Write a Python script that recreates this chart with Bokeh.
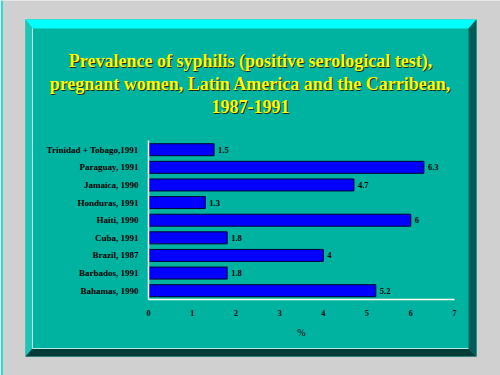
from bokeh.plotting import figure
from bokeh.models import Range1d, LinearAxis, FixedTicker, ColumnDataSource
from bokeh.core.properties import value
from bokeh.embed import file_html
from bokeh.resources import INLINE

# ---- data ----
title_lines = [
    "Prevalence of syphilis (positive serological test),",
    "pregnant women, Latin America and the Carribean,",
    "1987-1991",
]
countries = ["Trinidad + Tobago,1991", "Paraguay, 1991", "Jamaica, 1990", "Honduras, 1991",
             "Haiti, 1990", "Cuba, 1991", "Brazil, 1987", "Barbados, 1991", "Bahamas, 1990"]
prevalence = [1.5, 6.3, 4.7, 1.3, 6, 1.8, 4, 1.8, 5.2]
value_labels = ["1.5", "6.3", "4.7", "1.3", "6", "1.8", "4", "1.8", "5.2"]
x_ticks = [0, 1, 2, 3, 4, 5, 6, 7]
x_axis_label = "%"

# ---- layout / styles ----
W, H = 500, 375
BG = "#d0d0d0"
FACE = "#00b2a0"
SERIF = "Liberation Serif"

# plot area in canvas pixels
X0_PX, X1_PX = 148, 454          # value 0 and value 7
Y_TOP_PX, Y_BOT_PX = 140.4, 299  # top / bottom of category band
n = len(countries)
vmin, vmax = x_ticks[0], x_ticks[-1]
ppu = (X1_PX - X0_PX) / (vmax - vmin)
slot = (Y_BOT_PX - Y_TOP_PX) / n
x_range = Range1d(vmin - X0_PX / ppu, vmax + (W - X1_PX) / ppu)
y_range = Range1d(-0.5 - (H - Y_BOT_PX) / slot, n - 0.5 + Y_TOP_PX / slot)

# category positions (top row = highest)
ypos = [n - 1 - i for i in range(n)]

p = figure(width=W, height=H, output_backend="svg", toolbar_location=None,
           x_range=x_range, y_range=y_range, x_axis_type=None, y_axis_type=None,
           min_border=0)
p.title.visible = False
p.border_fill_color = BG
p.background_fill_color = BG
p.outline_line_color = None
p.extra_x_ranges = {"px": Range1d(0, W)}
p.extra_y_ranges = {"px": Range1d(H, 0)}

# page edge line
p.line([1.5, 1.5], [0, H], line_color="#30d8e0", line_width=2,
       x_range_name="px", y_range_name="px")

# ---- slide panel (pixel space) ----
L, R, T, B = 25, 476, 19, 356
bl, br, bt, bb = 7, 8, 9, 8
panel = [
    ([L, R, R, L], [T, T, B, B], FACE),
    ([L, R, R - br, L + bl], [T, T, T + bt, T + bt], "#00ffff"),
    ([L, L + bl, L + bl, L], [T, T + bt, B - bb, B], "#20c4b4"),
    ([R, R, R - br, R - br], [T, B, B - bb, T + bt], "#005c58"),
    ([L, L + bl, R - br, R], [B, B - bb, B - bb, B], "#003c38"),
]
for xs, ys, col in panel:
    p.patch(xs, ys, fill_color=col, line_color=None, x_range_name="px", y_range_name="px")
p.line([L + bl, L + bl, R - br], [T + bt, B - bb, B - bb], line_color="#b8ece4",
       line_width=1, x_range_name="px", y_range_name="px")

# ---- title with shadow ----
title_y = [60, 83, 106]
for dx, col in ((1, "#1c2a20"), (0, "#ffff00")):
    p.text(x=[W / 2 + dx] * len(title_lines), y=[t + dx for t in title_y], text=title_lines,
           text_align="center", text_baseline="middle", text_font=value(SERIF),
           text_font_style="bold", text_font_size="18px", text_color=col,
           x_range_name="px", y_range_name="px")

# ---- bars ----
src = ColumnDataSource(dict(y=ypos, prevalence=prevalence, label=value_labels))
p.hbar(y="y", left=0, right="prevalence", height=0.68, source=src,
       fill_color="#0000ff", line_color="#000030", line_width=1)
p.text(x="prevalence", y="y", text="label", source=src, x_offset=4,
       text_baseline="middle", text_align="left", text_font=value(SERIF),
       text_font_style="bold", text_font_size="8.5px", text_color="#000000")

# ---- axes (fixed inside the slide) ----
xaxis = LinearAxis(fixed_location=-0.5, bounds=(vmin, vmax), ticker=FixedTicker(ticks=x_ticks),
                   axis_label=x_axis_label)
yaxis = LinearAxis(fixed_location=0, bounds=(-0.5, n - 0.5), ticker=FixedTicker(ticks=ypos),
                   major_label_overrides={yv: c for yv, c in zip(ypos, countries)})
for ax in (xaxis, yaxis):
    ax.axis_line_color = "#ffffff"
    ax.axis_line_width = 1.5
    ax.major_tick_in = 0
    ax.major_tick_out = 0
    ax.minor_tick_in = 0
    ax.minor_tick_out = 0
    ax.major_label_text_font = SERIF
    ax.major_label_text_font_style = "bold"
    ax.major_label_text_color = "#000000"

xaxis.major_label_text_font_size = "8px"
xaxis.major_label_standoff = 10
xaxis.axis_label_text_font = SERIF
xaxis.axis_label_text_font_style = "normal"
xaxis.axis_label_text_font_size = "10px"
xaxis.axis_label_text_color = "#000000"
xaxis.axis_label_standoff = 8

yaxis.major_label_text_font_size = "9px"
yaxis.major_label_standoff = 10

p.add_layout(xaxis, "below")
p.add_layout(yaxis, "left")

open("out.html", "w").write(file_html(p, INLINE))
